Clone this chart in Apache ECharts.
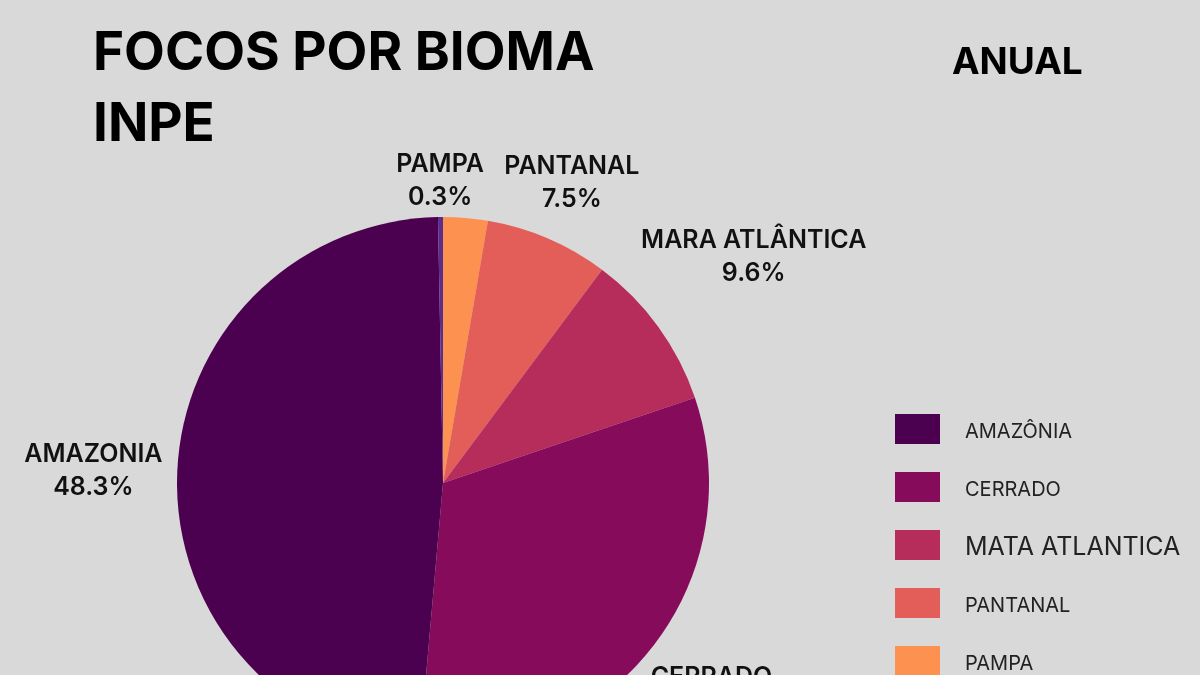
<!DOCTYPE html>
<html>
<head>
<meta charset="utf-8">
<script src="https://cdn.jsdelivr.net/npm/echarts@6/dist/echarts.min.js"></script>
<style>
  html, body { margin: 0; padding: 0; background: #d9d9d9; }
  #chart { width: 1200px; height: 675px; }
</style>
</head>
<body>
<div id="chart"></div>
<script>
// Slices, clockwise from the top of the pie
const sliceNames = ['PAMPA', 'PANTANAL', 'MATA ATLANTICA', 'CERRADO', 'AMAZÔNIA', 'CAATINGA'];
const sliceValues = [2.7, 7.5, 9.6, 31.6, 48.3, 0.3];
const sliceLabels = ['', 'PANTANAL', 'MARA ATLÂNTICA', 'CERRADO', 'AMAZONIA', 'PAMPA'];
const sliceColors = ['#fc9150', '#e35e58', '#b62c5b', '#860b5b', '#4b0050', '#5c2e8c'];
const legendNames = ['AMAZÔNIA', 'CERRADO', 'MATA ATLANTICA', 'PANTANAL', 'PAMPA'];

const CX = 443, CY = 483, R = 266, LABEL_R = 280;
const total = sliceValues.reduce((a, b) => a + b, 0);
const midAngles = [];
let acc = 0;
sliceValues.forEach(v => { midAngles.push((acc + v / 2) / total * 2 * Math.PI); acc += v; });

const chart = echarts.init(document.getElementById('chart'));
chart.setOption({
  backgroundColor: '#d9d9d9',
  animation: false,
  title: [
    {
      text: 'FOCOS POR BIOMA\nINPE',
      left: 88, top: 14,
      textStyle: { fontFamily: 'Inter', fontWeight: 700, fontSize: 53, lineHeight: 71, color: '#000' }
    },
    {
      text: 'ANUAL',
      left: 947, top: 39,
      textStyle: { fontFamily: 'Inter', fontWeight: 700, fontSize: 37, color: '#000' }
    }
  ],
  legend: {
    orient: 'vertical',
    left: 895, top: 414,
    height: 330,
    padding: 0,
    data: legendNames,
    icon: 'rect',
    itemWidth: 45, itemHeight: 30, itemGap: 28,
    formatter: name => name === 'MATA ATLANTICA' ? '{big|' + name + '}' : name,
    textStyle: {
      fontFamily: 'Inter', fontSize: 20, color: '#222', padding: [5, 0, 0, 20],
      rich: { big: { fontFamily: 'Inter', fontSize: 25, color: '#222' } }
    }
  },
  series: [{
    type: 'pie',
    center: [CX, CY],
    radius: R,
    startAngle: 90,
    clockwise: true,
    silent: true,
    data: sliceNames.map((n, i) => ({
      name: n,
      value: sliceValues[i],
      itemStyle: { color: sliceColors[i] },
      label: { show: sliceLabels[i] !== '' }
    })),
    label: {
      position: 'inside',
      formatter: p => sliceLabels[p.dataIndex] + '\n' + p.value.toFixed(1) + '%',
      fontFamily: 'Inter', fontWeight: 600, fontSize: 25, lineHeight: 33, color: '#111',
      align: 'center'
    },
    labelLine: { show: false },
    labelLayout: function (params) {
      const a = midAngles[params.dataIndex];
      const ux = Math.sin(a), uy = -Math.cos(a);
      const w = params.labelRect.width, h = params.labelRect.height - 22;
      const d = LABEL_R + (w / 2) * Math.abs(ux) + (h / 2) * Math.abs(uy);
      return { x: CX + d * ux, y: CY + d * uy, align: 'center', verticalAlign: 'middle' };
    }
  }]
});
</script>
</body>
</html>
